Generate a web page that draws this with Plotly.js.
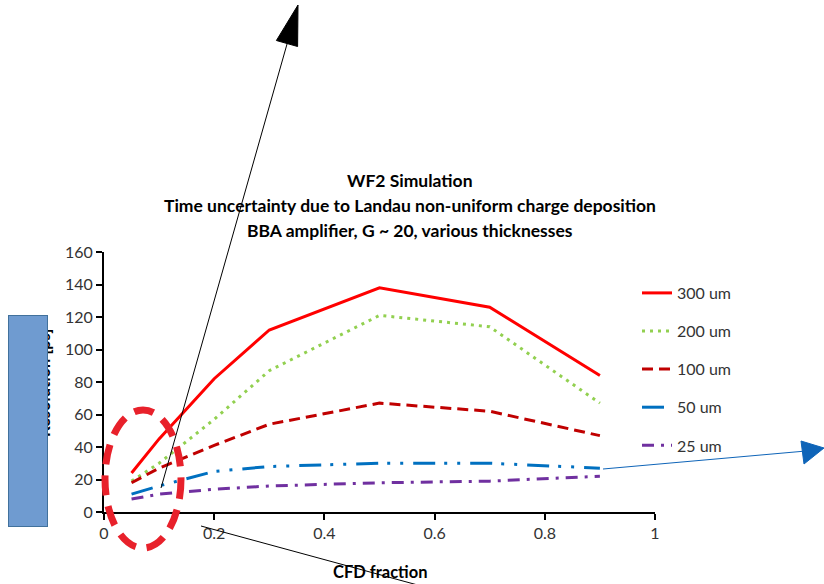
<!DOCTYPE html>
<html>
<head>
<meta charset="utf-8">
<script src="https://cdn.plot.ly/plotly-3.0.1.min.js"></script>
<style>html,body{margin:0;padding:0;background:#fff;}#chart{width:824px;height:584px;}</style>
</head>
<body>
<div id="chart"></div>
<script>
// ---- data ----
const cfdFraction = [0.05, 0.1, 0.2, 0.3, 0.5, 0.7, 0.9];
const res300 = [24, 45, 82, 112, 138, 126, 84];
const res200 = [19, 30, 57, 87, 121, 114, 67];
const res100 = [18, 27, 41, 54, 67, 62, 47];
const res50  = [11, 16, 25, 28, 30, 30, 27];
const res25  = [8, 11, 14, 16, 18, 19, 22];
const seriesNames = ["300 um", "200 um", "100 um", "50 um", "25 um"];
const xTickVals = [0, 0.2, 0.4, 0.6, 0.8, 1];
const xTickText = ["0", "0.2", "0.4", "0.6", "0.8", "1"];
const yTickVals = [0, 20, 40, 60, 80, 100, 120, 140, 160];
const titleLines = ["WF2 Simulation",
  "Time uncertainty due to Landau non-uniform charge deposition",
  "BBA amplifier, G ~ 20, various thicknesses"];
const xTitle = "CFD fraction";
const yTitle = "Resolution [ps]";

// ---- geometry helpers (page pixels -> paper coords) ----
const W = 824, H = 584;
const M = {l: 104, r: 169, t: 252, b: 72};
const PW = W - M.l - M.r, PH = H - M.t - M.b;
const px = x => (x - M.l) / PW;
const py = y => (H - M.b - y) / PH;

const FONT = "Lato, 'Open Sans', sans-serif";

const styles = [
  {color: "#ff0000", dash: "solid"},
  {color: "#92d050", dash: "3px,5px"},
  {color: "#c00000", dash: "11px,6px"},
  {color: "#0070c0", dash: "22px,9px,3px,10px,3px,10px"},
  {color: "#7030a0", dash: "12px,7px,3px,7px"}
];
const allSeries = [res300, res200, res100, res50, res25];

const traces = allSeries.map((ys, i) => ({
  type: "scatter", mode: "lines",
  x: cfdFraction, y: ys, name: seriesNames[i],
  legendgroup: "g" + i,
  line: {color: styles[i].color, width: 3, dash: styles[i].dash},
  hoverinfo: "skip"
}));

const annotations = [];
const titleY = [180, 205, 230];
titleLines.forEach((t, i) => annotations.push({
  text: "<b>" + t + "</b>", xref: "paper", yref: "paper",
  x: px(410), y: py(titleY[i]), xanchor: "center", yanchor: "middle",
  showarrow: false, font: {family: FONT, size: 17.5, color: "#000"}
}));
annotations.push({
  text: "<b>" + xTitle + "</b>", xref: "paper", yref: "paper",
  x: px(380), y: py(572), xanchor: "center", yanchor: "middle",
  showarrow: false, font: {family: FONT, size: 16.5, color: "#000"}
});
annotations.push({
  text: "<b>" + yTitle + "</b>", xref: "paper", yref: "paper",
  x: px(44), y: py(383), xanchor: "center", yanchor: "middle", textangle: -90,
  showarrow: false, font: {family: FONT, size: 16.5, color: "#000"}
});
// blue box covering the axis title
annotations.push({
  text: " ", xref: "paper", yref: "paper",
  x: px(27.5), y: py(420.5), xanchor: "center", yanchor: "middle",
  width: 38, height: 210, borderpad: 0, borderwidth: 1,
  bgcolor: "#6f9bd0", bordercolor: "#41719c", showarrow: false
});

const shapes = [
  // red dashed ellipse
  {type: "circle", xref: "paper", yref: "paper", layer: "above",
   x0: px(105), x1: px(181), y0: py(548), y1: py(410),
   line: {color: "#e8212b", width: 7, dash: "20px,11px"}},
  // black arrow line
  {type: "line", xref: "paper", yref: "paper", layer: "above",
   x0: px(161), y0: py(488), x1: px(291), y1: py(30),
   line: {color: "#000", width: 1}},
  {type: "path", xref: "paper", yref: "paper", layer: "above",
   path: `M ${px(298)} ${py(5)} L ${px(276.4)} ${py(40.5)} L ${px(297.6)} ${py(46.5)} Z`,
   fillcolor: "#000", line: {color: "#000", width: 1}},
  // thin black line bottom
  {type: "line", xref: "paper", yref: "paper", layer: "above",
   x0: px(201), y0: py(526), x1: px(436), y1: py(590),
   line: {color: "#000", width: 1}},
  // blue arrow
  {type: "line", xref: "paper", yref: "paper", layer: "above",
   x0: px(603), y0: py(469), x1: px(806), y1: py(451),
   line: {color: "#0e64b8", width: 1}},
  {type: "path", xref: "paper", yref: "paper", layer: "above",
   path: `M ${px(824)} ${py(448)} L ${px(801)} ${py(441)} L ${px(804)} ${py(464)} Z`,
   fillcolor: "#0e64b8", line: {color: "#0e64b8", width: 1}}
];

const axisCommon = {
  showgrid: false, zeroline: false, showline: true,
  linecolor: "#000", linewidth: 2, ticks: "outside", ticklen: 6,
  tickwidth: 2, tickcolor: "#000",
  tickfont: {family: FONT, size: 16, color: "#333"}
};

const layout = {
  width: W, height: H,
  margin: M,
  paper_bgcolor: "#fff", plot_bgcolor: "#fff",
  showlegend: true,
  legend: {
    x: px(637), y: py(276), xanchor: "left", yanchor: "top",
    font: {family: FONT, size: 16, color: "#333"},
    tracegroupgap: 14.3, traceorder: "grouped",
    bgcolor: "rgba(0,0,0,0)", itemwidth: 30
  },
  xaxis: Object.assign({}, axisCommon, {
    range: [0, 1], tickvals: xTickVals, ticktext: xTickText
  }),
  yaxis: Object.assign({}, axisCommon, {
    range: [0, 160], tickvals: yTickVals
  }),
  annotations: annotations,
  shapes: shapes
};

Plotly.newPlot("chart", traces, layout, {displayModeBar: false, staticPlot: true});
</script>
</body>
</html>
